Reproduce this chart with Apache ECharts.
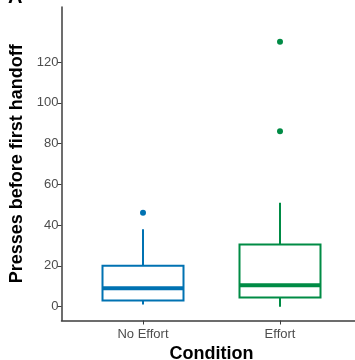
<!DOCTYPE html>
<html>
<head>
<meta charset="utf-8">
<script src="https://cdn.jsdelivr.net/npm/echarts@6/dist/echarts.min.js"></script>
<style>
html,body{margin:0;padding:0;background:#fff;}
#chart{width:355px;height:360px;}
</style>
</head>
<body>
<div id="chart"></div>
<script>
// ---- data ----
var categories = ['No Effort', 'Effort'];
var colors = ['#0072B2', '#008B45'];
var whiskerLow = [1, 0];
var q1 = [3, 4.5];
var median = [9, 10.5];
var q3 = [20, 30.5];
var whiskerHigh = [38, 51];
var outliersNoEffort = [46];
var outliersEffort = [86, 130];
var yTicks = [0, 20, 40, 60, 80, 100, 120];

var yMin = -6.8, yMax = 147;
var boxW = 81;

var chart = echarts.init(document.getElementById('chart'), null, {renderer: 'canvas'});

var boxData = categories.map(function (c, i) {
  return [i, whiskerLow[i], q1[i], median[i], q3[i], whiskerHigh[i]];
});
var outlierData = [];
outliersNoEffort.forEach(function (v) { outlierData.push({value: [0, v], itemStyle: {color: colors[0], opacity: 1}}); });
outliersEffort.forEach(function (v) { outlierData.push({value: [1, v], itemStyle: {color: colors[1], opacity: 1}}); });

var fontFam = '"Liberation Sans", Arial, Helvetica, sans-serif';

var option = {
  animation: false,
  backgroundColor: '#fff',
  grid: [
    {left: 61.5, right: 0, top: 7, bottom: 39.5, outerBoundsMode: 'none', containLabel: false},
    {left: 74.5, width: 274, top: 7, bottom: 39.5, outerBoundsMode: 'none', containLabel: false}
  ],
  xAxis: [
    {
      gridIndex: 0, type: 'value', min: 0, max: 1,
      axisLine: {show: true, onZero: false, lineStyle: {color: '#3c3c3c', width: 1.5}},
      axisTick: {show: false}, axisLabel: {show: false}, splitLine: {show: false}
    },
    {
      gridIndex: 1, type: 'category', data: categories,
      axisLine: {show: false, onZero: false},
      axisTick: {show: true, alignWithLabel: true, length: 4, lineStyle: {color: '#3c3c3c', width: 1}},
      axisLabel: {color: '#4d4d4d', fontSize: 13, fontFamily: fontFam, margin: 7},
      splitLine: {show: false},
      name: 'Condition', nameLocation: 'middle', nameGap: 17.5,
      nameTextStyle: {color: '#000', fontSize: 18, fontWeight: 'bold', fontFamily: fontFam}
    }
  ],
  yAxis: [
    {
      gridIndex: 0, type: 'value', min: yMin, max: yMax,
      axisLine: {show: true, onZero: false, lineStyle: {color: '#3c3c3c', width: 1.5}},
      axisTick: {show: true, length: 4, customValues: yTicks, lineStyle: {color: '#3c3c3c', width: 1}},
      axisLabel: {show: true, customValues: yTicks, color: '#4d4d4d', fontSize: 13, fontFamily: fontFam, margin: 3},
      splitLine: {show: false},
      name: 'Presses before first handoff', nameLocation: 'middle', nameGap: 32, nameRotate: 90,
      nameTextStyle: {color: '#000', fontSize: 18, fontWeight: 'bold', fontFamily: fontFam}
    },
    {
      gridIndex: 1, type: 'value', min: yMin, max: yMax, show: false
    }
  ],
  graphic: [
    {type: 'text', left: 8, top: -13, style: {text: 'A', fontSize: 20, fontWeight: 'bold', fill: '#000', fontFamily: fontFam}}
  ],
  series: [
    {
      type: 'custom', xAxisIndex: 1, yAxisIndex: 1,
      data: boxData,
      renderItem: function (params, api) {
        var x = api.value(0);
        var pLow = api.coord([x, api.value(1)]);
        var pQ1 = api.coord([x, api.value(2)]);
        var pMed = api.coord([x, api.value(3)]);
        var pQ3 = api.coord([x, api.value(4)]);
        var pHigh = api.coord([x, api.value(5)]);
        var cx = pQ1[0];
        var col = colors[params.dataIndex];
        return {
          type: 'group',
          children: [
            {type: 'line', shape: {x1: cx, y1: pQ3[1], x2: cx, y2: pHigh[1]}, style: {stroke: col, lineWidth: 2}},
            {type: 'line', shape: {x1: cx, y1: pQ1[1], x2: cx, y2: pLow[1]}, style: {stroke: col, lineWidth: 2}},
            {type: 'rect', shape: {x: cx - boxW / 2, y: pQ3[1], width: boxW, height: pQ1[1] - pQ3[1]},
              style: {fill: '#fff', stroke: col, lineWidth: 2}},
            {type: 'line', shape: {x1: cx - boxW / 2, y1: pMed[1], x2: cx + boxW / 2, y2: pMed[1]},
              style: {stroke: col, lineWidth: 4, lineCap: 'butt'}}
          ]
        };
      }
    },
    {
      type: 'scatter', xAxisIndex: 1, yAxisIndex: 1,
      symbolSize: 6,
      data: outlierData
    }
  ]
};
chart.setOption(option);
</script>
</body>
</html>
